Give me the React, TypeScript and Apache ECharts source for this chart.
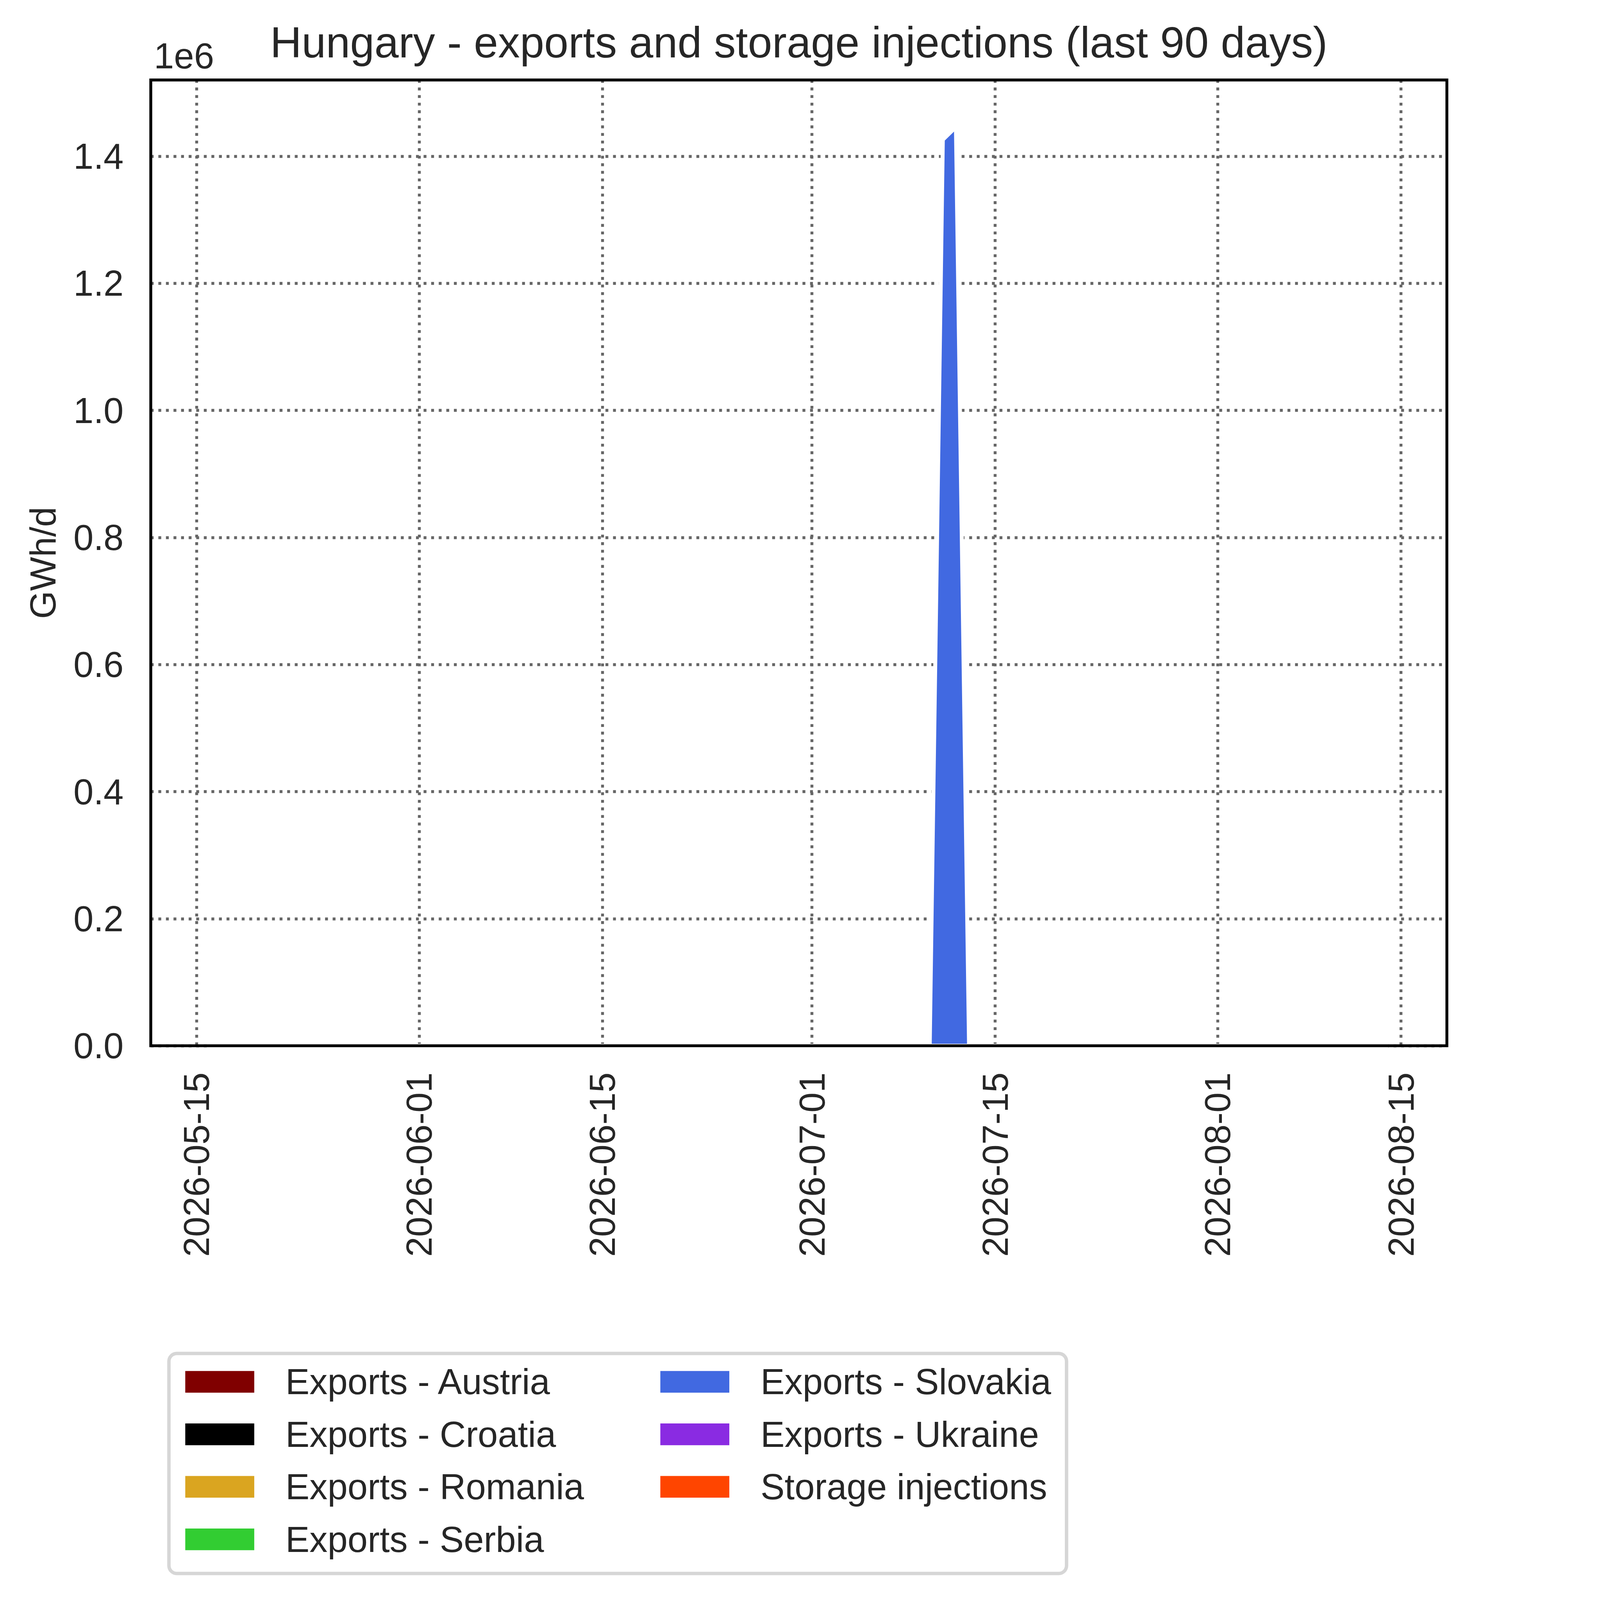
import { useEffect, useRef } from 'react';
import * as echarts from 'echarts';

const FONT = '"Liberation Sans", Arial, Helvetica, sans-serif';
const TEXT = '#262626';

const chartTitle = 'Hungary - exports and storage injections (last 90 days)';
const yAxisName = 'GWh/d';
const yOffsetLabel = '1e6';

// daily dates, 2026-05-16 .. 2026-08-14 (91 days)
const dayCount = 91;
const dates: number[] = Array.from({ length: dayCount }, (_, i) => new Date(2026, 4, 16 + i).getTime());

const xTickLabels = ['2026-05-15', '2026-06-01', '2026-06-15', '2026-07-01', '2026-07-15', '2026-08-01', '2026-08-15'];
const yTickValues = [0, 200000, 400000, 600000, 800000, 1000000, 1200000, 1400000];

// series that stay at zero for the whole period
const austria: number[] = new Array(dayCount).fill(0);
const croatia: number[] = new Array(dayCount).fill(0);
const romania: number[] = new Array(dayCount).fill(0);
const serbia: number[] = new Array(dayCount).fill(0);
const ukraine: number[] = new Array(dayCount).fill(0);
const storage: number[] = new Array(dayCount).fill(0);

const slovakia: number[] = [
  // May 16-31
  0, 0, 0, 0, 0, 0, 0, 0, 0, 0, 0, 0, 0, 0, 0, 0,
  // June
  0, 0, 0, 0, 0, 0, 0, 0, 0, 0, 0, 0, 0, 0, 0, 0, 0, 0, 0, 0, 0, 0, 0, 0, 0, 0, 0, 0, 0, 0,
  // July 1-10
  0, 0, 0, 0, 0, 0, 0, 0, 0, 0,
  // July 11-12
  1426000, 1446000,
  // July 13-31
  0, 0, 0, 0, 0, 0, 0, 0, 0, 0, 0, 0, 0, 0, 0, 0, 0, 0, 0,
  // Aug 1-14
  0, 0, 0, 0, 0, 0, 0, 0, 0, 0, 0, 0, 0, 0,
];

const seriesNames = [
  'Exports - Austria',
  'Exports - Croatia',
  'Exports - Romania',
  'Exports - Serbia',
  'Exports - Slovakia',
  'Exports - Ukraine',
  'Storage injections',
];
const seriesColors = ['#800000', '#000000', '#DAA520', '#32CD32', '#4169E1', '#8A2BE2', '#FF4500'];
const seriesValues = [austria, croatia, romania, serbia, slovakia, ukraine, storage];

const pad = (n: number) => (n < 10 ? '0' + n : '' + n);
const parseDay = (s: string) => {
  const [y, m, d] = s.split('-').map(Number);
  return new Date(y, m - 1, d).getTime();
};
const fmtDay = (v: number) => {
  const d = new Date(v);
  return `${d.getFullYear()}-${pad(d.getMonth() + 1)}-${pad(d.getDate())}`;
};

// design size (reference pixels)
const W = 5637;
const H = 6123;

export default function App() {
  const ref = useRef<HTMLDivElement>(null);

  useEffect(() => {
    if (!ref.current) return;
    document.body.style.margin = '0';
    document.body.style.overflow = 'hidden';
    const k = Math.min(window.innerWidth / W, window.innerHeight / H);
    const s = (v: number) => v * k;
    ref.current.style.width = `${s(W)}px`;
    ref.current.style.height = `${s(H)}px`;
    const chart = echarts.init(ref.current, null, { renderer: 'svg' });

    const gridLeft = 577;
    const gridTop = 306;
    const gridW = 4960;
    const gridH = 3696;

    const legendItem = (i: number) => ({
      name: seriesNames[i],
      itemStyle: { color: seriesColors[i], borderWidth: 0 },
    });
    const legendCommon = {
      orient: 'vertical',
      top: s(5219),
      padding: 0,
      itemWidth: s(264),
      itemHeight: s(83),
      itemGap: s(63),
      icon: 'rect',
      selectedMode: false,
      itemStyle: { borderWidth: 0 },
      textStyle: {
        fontSize: s(138),
        lineHeight: s(138),
        color: TEXT,
        fontFamily: FONT,
        padding: [0, 0, 0, s(112)],
      },
    };

    const xTicks = xTickLabels.map(parseDay);
    const gridLine = { color: '#666666', width: s(11), type: [s(11), s(18)] };

    chart.setOption({
      animation: false,
      backgroundColor: '#ffffff',
      title: {
        text: chartTitle,
        left: s(3057),
        top: s(78),
        textAlign: 'center',
        padding: 0,
        textStyle: { fontSize: s(167), fontWeight: 'normal', color: TEXT, fontFamily: FONT },
      },
      grid: {
        left: s(gridLeft),
        top: s(gridTop),
        width: s(gridW),
        height: s(gridH),
        containLabel: false,
        outerBoundsMode: 'none',
      },
      legend: [
        { ...legendCommon, left: s(709), data: [0, 1, 2, 3].map(legendItem) },
        { ...legendCommon, left: s(2527), data: [4, 5, 6].map(legendItem) },
      ],
      xAxis: {
        type: 'value',
        min: new Date(2026, 4, 11, 12).getTime(),
        max: new Date(2026, 7, 18, 12).getTime(),
        axisLine: { show: false },
        axisTick: { show: false, customValues: xTicks },
        axisLabel: {
          customValues: xTicks,
          rotate: 90,
          margin: s(102),
          fontSize: s(138),
          color: TEXT,
          fontFamily: FONT,
          formatter: (v: number) => fmtDay(v),
        },
        splitLine: { show: true, lineStyle: gridLine },
      },
      yAxis: {
        type: 'value',
        min: 0,
        max: 1520000,
        axisLine: { show: false },
        axisTick: { show: false, customValues: yTickValues },
        axisLabel: {
          customValues: yTickValues,
          margin: s(104),
          fontSize: s(138),
          color: TEXT,
          fontFamily: FONT,
          formatter: (v: number) => (v / 1e6).toFixed(1),
        },
        splitLine: { show: true, lineStyle: gridLine },
      },
      graphic: [
        {
          type: 'rect',
          z: 100,
          silent: true,
          shape: { x: s(gridLeft), y: s(gridTop), width: s(gridW), height: s(gridH) },
          style: { fill: 'none', stroke: '#000000', lineWidth: s(11) },
        },
        {
          type: 'rect',
          z: 1,
          silent: true,
          shape: { x: s(646.5), y: s(5179.5), width: s(3435), height: s(842), r: s(30) },
          style: { fill: '#ffffff', stroke: '#d6d6d6', lineWidth: s(13) },
        },
        {
          type: 'text',
          z: 100,
          x: s(589),
          y: s(214),
          style: {
            text: yOffsetLabel,
            fontSize: s(138),
            fontFamily: FONT,
            fill: TEXT,
            align: 'left',
            verticalAlign: 'middle',
          },
        },
        {
          type: 'text',
          z: 100,
          x: s(164),
          y: s(2154),
          rotation: Math.PI / 2,
          style: {
            text: yAxisName,
            fontSize: s(138),
            fontFamily: FONT,
            fill: TEXT,
            align: 'center',
            verticalAlign: 'middle',
          },
        },
      ],
      // all layers except Slovakia are zero, so the areas are drawn from the baseline
      series: seriesNames.map((name, idx) => ({
        type: 'line',
        name,
        symbol: 'none',
        showSymbol: false,
        data: dates.map((d, i) => [d, seriesValues[idx][i]]),
        color: seriesColors[idx],
        lineStyle: { color: '#ffffff', width: s(15) },
        areaStyle: { color: seriesColors[idx], opacity: 1 },
      })),
    });

    return () => chart.dispose();
  }, []);

  return <div ref={ref} style={{ position: 'absolute', left: 0, top: 0, width: 100, height: 100 }} />;
}
